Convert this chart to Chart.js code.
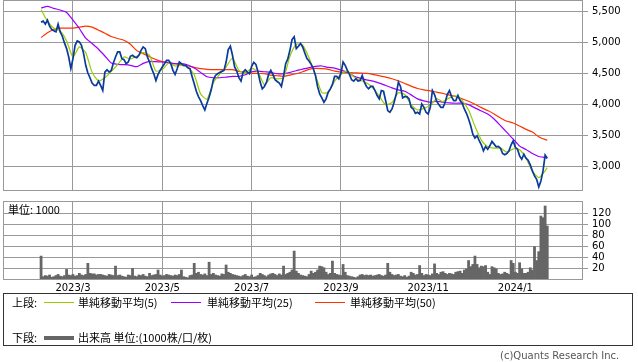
<!DOCTYPE html>
<html><head><meta charset="utf-8">
<script src="https://cdn.jsdelivr.net/npm/chart.js@4/dist/chart.umd.min.js"></script>
<style>
body{margin:0;background:#fff;width:638px;height:362px;overflow:hidden;position:relative;font-family:"Noto Sans CJK JP","Noto Sans",sans-serif;color:#000;}
canvas{position:absolute;left:0;}
#pc{top:0;}
#vc{top:195px;}
.t{position:absolute;font-size:11px;line-height:12px;white-space:nowrap;}
.ln{position:absolute;height:1px;width:30px;}
#box{position:absolute;left:3px;top:293px;width:630px;height:53px;border:1px solid #333;box-sizing:border-box;}
</style></head><body>
<canvas id="pc" width="638" height="191"></canvas>
<canvas id="vc" width="638" height="100"></canvas>
<div class="t" id="unit" style="left:8px;top:203px;">単位: 1000</div>
<div id="box"></div>
<div class="t" style="left:12px;top:296px;">上段:</div>
<div class="ln" style="left:44px;top:302px;background:#99cc00;"></div>
<div class="t" style="left:78px;top:296px;">単純移動平均(5)</div>
<div class="ln" style="left:171px;top:302px;background:#9900ff;"></div>
<div class="t" style="left:207px;top:296px;">単純移動平均(25)</div>
<div class="ln" style="left:315px;top:302px;background:#ff3300;"></div>
<div class="t" style="left:350px;top:296px;">単純移動平均(50)</div>
<div class="t" style="left:12px;top:331px;">下段:</div>
<div class="ln" style="left:44px;top:336px;height:4px;background:#666;"></div>
<div class="t" style="left:78px;top:331px;">出来高 単位:(1000株/口/枚)</div>
<div class="t" style="left:500px;top:350px;font-family:'DejaVu Sans';font-size:10px;color:#555;">(c)Quants Research Inc.</div>
<script>
// trading-day index 0 = 2023/2/7 ... 238 = 2024/1/26
const monthTickIdx = [15, 57, 99, 141, 182, 223];
const monthLabels = ['2023/3', '2023/5', '2023/7', '2023/9', '2023/11', '2024/1'];
const priceTicks = [3000, 3500, 4000, 4500, 5000, 5500];
const volumeTicks = [20, 40, 60, 80, 100, 120];

const closePrice = [
5322,5338,5290,5354,5258,5204,5182,5166,5290,5166,
5096,4989,4897,4763,4575,4736,4951,5021,5005,4951,
4817,4629,4505,4430,4344,4306,4306,4376,4306,4225,
4521,4559,4521,4548,4666,4763,4844,4844,4736,4720,
4655,4682,4774,4790,4763,4752,4790,4870,4924,4897,
4763,4682,4575,4494,4386,4483,4548,4602,4655,4709,
4709,4655,4548,4483,4575,4682,4655,4629,4629,4591,
4575,4451,4333,4214,4128,4064,3983,3913,4021,4118,
4236,4397,4467,4494,4516,4532,4548,4682,4881,4935,
4790,4602,4537,4430,4376,4521,4559,4521,4494,4612,
4677,4645,4521,4360,4252,4290,4360,4483,4548,4483,
4397,4370,4344,4290,4451,4655,4731,4870,5042,5086,
4897,4935,4978,4924,4827,4736,4698,4645,4575,4467,
4290,4171,4107,4037,4091,4198,4252,4322,4451,4451,
4413,4505,4682,4629,4548,4483,4397,4376,4413,4376,
4386,4467,4360,4290,4252,4290,4290,4225,4145,4091,
4225,4214,4064,3903,3876,3929,4037,4171,4360,4290,
4107,4128,4128,4091,3956,3929,3860,3876,3849,4010,
3956,3876,3849,3956,4225,4161,4053,3999,3956,3956,
4037,4161,4225,4128,4064,4064,4145,4064,4021,3929,
3860,3768,3661,3526,3462,3499,3419,3354,3257,3327,
3284,3338,3408,3365,3322,3327,3300,3214,3193,3214,
3257,3354,3419,3311,3284,3177,3123,3204,3139,3107,
3032,2935,2854,2800,2677,2773,2935,3190,3139
];

const maDays = [0,3,6,9,12,15,18,21,24,27,30,33,36,39,42,45,48,51,54,57,60,63,66,69,72,75,78,81,84,87,90,93,96,99,102,105,108,111,114,117,120,123,126,129,132,135,138,141,144,147,150,153,156,159,162,165,168,171,174,177,180,183,186,189,192,195,198,201,204,207,210,213,216,219,222,225,228,231,234,236,238];

const ma5 = [
5521,5338,5225,5182,5021,4763,4924,4833,4516,4381,
4430,4532,4639,4763,4731,4774,4833,4790,4537,4564,
4666,4618,4629,4602,4478,4171,4085,4354,4489,4602,
4747,4548,4505,4580,4521,4317,4430,4413,4430,4774,
4967,4951,4747,4478,4193,4193,4376,4483,4537,4446,
4392,4349,4263,4134,3999,4032,4188,4161,3994,3913,
3940,3989,4091,4048,4107,4139,4064,3913,3650,3429,
3322,3300,3300,3236,3290,3274,3139,2929,2827,2892,
2989
];

const ma25 = [
5548,5575,5543,5516,5478,5354,5220,5064,4978,4887,
4779,4666,4645,4639,4629,4607,4661,4693,4688,4682,
4672,4655,4655,4634,4585,4516,4446,4430,4430,4440,
4451,4451,4478,4526,4537,4526,4516,4494,4494,4516,
4542,4569,4591,4612,4618,4596,4585,4553,4521,4456,
4424,4397,4376,4344,4306,4268,4236,4214,4155,4091,
4059,4037,4053,4037,4026,4021,4021,3999,3946,3897,
3849,3768,3661,3553,3446,3333,3279,3214,3166,3155,
3139
];

const ma50 = [
5075,5150,5204,5225,5225,5225,5241,5258,5241,5193,
5145,5091,5059,5032,4967,4865,4817,4768,4720,4688,
4666,4655,4634,4618,4596,4575,4564,4559,4559,4559,
4559,4532,4521,4505,4499,4494,4473,4462,4451,4473,
4494,4526,4564,4580,4575,4564,4537,4521,4516,4510,
4505,4499,4483,4462,4440,4413,4381,4338,4295,4257,
4236,4220,4198,4177,4150,4128,4091,4053,4005,3951,
3903,3849,3784,3731,3704,3655,3602,3558,3483,3451,
3429
];

const volume = [
43,6,8,7,9,5,6,8,10,7,
6,8,19,9,8,10,7,8,12,9,
8,10,30,12,11,11,9,10,10,9,
8,7,10,9,8,25,8,9,7,6,
5,9,8,21,7,6,9,8,10,7,
6,12,8,9,10,18,9,7,8,10,
9,8,7,9,8,10,18,6,5,4,
8,9,30,12,14,10,9,11,8,32,
10,12,9,8,7,11,10,27,14,12,
10,9,8,7,6,8,10,7,6,9,
5,6,8,12,10,8,6,9,11,12,
10,8,11,9,25,10,12,14,18,52,
16,12,9,8,7,6,10,16,12,14,
18,25,24,22,14,10,12,34,12,10,
9,8,28,14,8,7,6,5,4,6,
9,10,8,9,8,9,7,8,9,10,
8,7,9,30,14,10,8,9,10,7,
6,8,5,7,14,12,9,10,26,12,
8,10,9,8,11,29,12,10,14,15,
12,10,12,11,10,14,15,16,12,18,
20,35,24,28,43,28,22,25,24,26,
14,10,24,22,20,12,10,11,14,12,
10,35,30,14,12,31,20,12,12,14,
22,18,60,35,51,115,112,133,97
];

const GRID = '#999999';
const X_MIN = -17.9, X_MAX = 254.8;

const frame = {
  id: 'frame',
  afterDraw(c) {
    const a = c.chartArea, g = c.ctx;
    g.save(); g.strokeStyle = GRID; g.lineWidth = 1;
    g.strokeRect(Math.round(a.left) + 0.5, Math.round(a.top) + 0.5, Math.round(a.right - a.left) - 1, Math.round(a.bottom - a.top) - 1);
    g.restore();
  }
};

const xScale = (showLabels) => ({
  type: 'linear', min: X_MIN, max: X_MAX, offset: false,
  afterBuildTicks: s => { s.ticks = monthTickIdx.map(v => ({ value: v })); },
  ticks: {
    display: showLabels, autoSkip: false, maxRotation: 0, padding: 2,
    font: { family: 'DejaVu Sans', size: 10 }, color: '#000',
    callback: (v) => { const k = monthTickIdx.indexOf(v); return k >= 0 ? monthLabels[k] : ''; }
  },
  grid: { color: GRID, drawTicks: false, offset: false },
  border: { display: false },
  afterFit: s => { s.height = showLabels ? 15 : 0; s.paddingLeft = 0; s.paddingRight = 0; }
});

const yFit = s => { s.width = 55; s.paddingTop = 0; s.paddingBottom = 0; };

new Chart(document.getElementById('pc'), {
  type: 'line',
  data: { datasets: [
    { data: closePrice.map((v, i) => ({ x: i, y: v })), borderColor: '#0a3a9c', borderWidth: 1.7, pointRadius: 0, tension: 0, order: 0 },
    { data: maDays.map((d, k) => ({ x: d, y: ma5[k] })), borderColor: '#99cc00', borderWidth: 1.2, pointRadius: 0, tension: 0.2, order: 1 },
    { data: maDays.map((d, k) => ({ x: d, y: ma25[k] })), borderColor: '#9900ff', borderWidth: 1.2, pointRadius: 0, tension: 0.2, order: 2 },
    { data: maDays.map((d, k) => ({ x: d, y: ma50[k] })), borderColor: '#ff3300', borderWidth: 1.2, pointRadius: 0, tension: 0.2, order: 3 }
  ]},
  options: {
    responsive: false, animation: false, events: [],
    layout: { padding: { left: 3, top: 0, right: 0, bottom: 0 } },
    plugins: { legend: { display: false }, tooltip: { enabled: false } },
    scales: {
      x: xScale(false),
      y: {
        position: 'right', min: 2613, max: 5677,
        afterBuildTicks: s => { s.ticks = priceTicks.map(v => ({ value: v })); },
        ticks: { font: { family: 'DejaVu Sans', size: 10 }, color: '#000', padding: 4,
          callback: v => v.toLocaleString('en-US') },
        grid: { color: GRID, tickLength: 5 },
        border: { display: false },
        afterFit: yFit
      }
    }
  },
  plugins: [frame]
});

new Chart(document.getElementById('vc'), {
  type: 'bar',
  data: { datasets: [
    { data: volume.map((v, i) => ({ x: i, y: v })), backgroundColor: '#666666', barPercentage: 1, categoryPercentage: 1, borderWidth: 0 }
  ]},
  options: {
    responsive: false, animation: false, events: [],
    layout: { padding: { left: 3, top: 6, right: 0, bottom: 0 } },
    plugins: { legend: { display: false }, tooltip: { enabled: false } },
    scales: {
      x: xScale(true),
      y: {
        position: 'right', min: 0, max: 142,
        afterBuildTicks: s => { s.ticks = volumeTicks.map(v => ({ value: v })); },
        ticks: { font: { family: 'DejaVu Sans', size: 10 }, color: '#000', padding: 4 },
        grid: { color: GRID, tickLength: 5 },
        border: { display: false },
        afterFit: yFit
      }
    }
  },
  plugins: [frame]
});
</script>
</body></html>
